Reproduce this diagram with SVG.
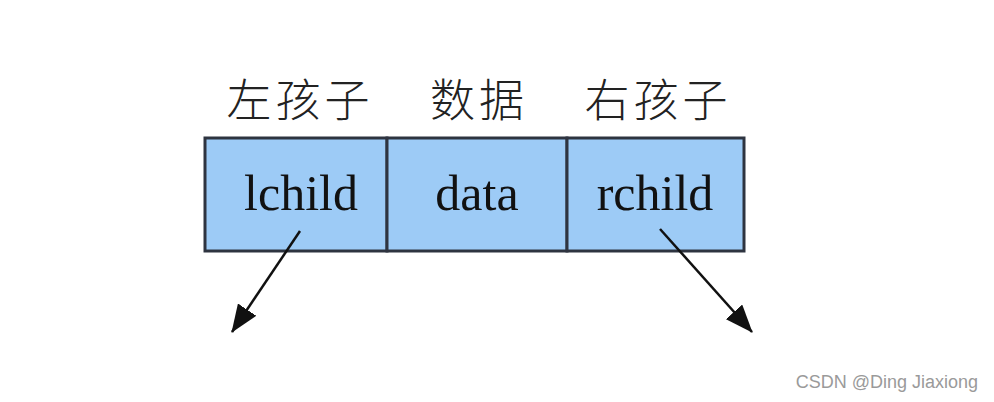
<svg xmlns="http://www.w3.org/2000/svg" width="994" height="402" viewBox="0 0 994 402">
<style>
.cell{fill:#9dcbf6;stroke:#2e3440;stroke-width:3}
.lbl{font-family:"Liberation Serif",serif;font-size:50px;fill:#111;text-anchor:middle}
.cn{font-family:"Noto Sans CJK SC","Noto Sans CJK JP",sans-serif;font-size:45px;font-weight:300;fill:#222;text-anchor:middle;letter-spacing:4px}
.arr{stroke:#111;stroke-width:2.5;fill:none;marker-end:url(#ah)}
</style>
<defs>
<marker id="ah" viewBox="0 0 28 22" refX="27" refY="11" markerWidth="28" markerHeight="22" markerUnits="userSpaceOnUse" orient="auto">
<path d="M0,0 L28,11 L0,22 Z" fill="#111"/>
</marker>
</defs>
<rect width="994" height="402" fill="#fff"/>
<g id="title-left"><text class="cn" x="300" y="117">左孩子</text></g>
<g id="title-mid"><text class="cn" x="479" y="117">数据</text></g>
<g id="title-right"><text class="cn" x="658" y="117">右孩子</text></g>
<g id="lchild"><rect class="cell" x="205" y="138" width="182" height="113"/><text class="lbl" x="301" y="210">lchild</text></g>
<g id="data"><rect class="cell" x="387" y="138" width="180" height="113"/><text class="lbl" x="477" y="210">data</text></g>
<g id="rchild"><rect class="cell" x="567" y="138" width="177" height="113"/><text class="lbl" x="655" y="210">rchild</text></g>
<g id="connectors">
<path class="arr" d="M300,231 L232,332"/>
<path class="arr" d="M660,229 L752,332"/>
</g>
<text x="978" y="388" font-family="Liberation Sans,Arial,sans-serif" font-size="18" fill="#9a9a9a" text-anchor="end">CSDN @Ding Jiaxiong</text>
</svg>
